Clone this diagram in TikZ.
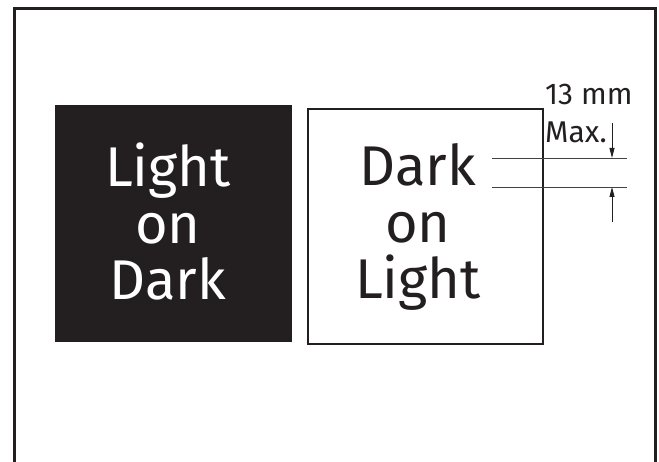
\documentclass[tikz,border=0pt]{standalone}
\usepackage{fontspec}
\setmainfont{Fira Sans}
\usetikzlibrary{arrows.meta}
\definecolor{ink}{HTML}{231F20}
\begin{document}
\begin{tikzpicture}[x=1pt,y=-1pt,
  bigtext/.style={font=\fontsize{56}{56.5}\selectfont,align=center,inner sep=0pt,anchor=base},
  smalltext/.style={font=\fontsize{30}{30}\selectfont,inner sep=0pt,anchor=base west,text=ink},
  guide/.style={line width=0.9pt,draw=ink!85},
  dimarrow/.style={line width=0.9pt,draw=ink,-{Triangle[length=10pt,width=5pt]}}]
\useasboundingbox (0,0) rectangle (659,462);
% outer frame
\draw[line width=3pt,draw=ink] (14.7,480) -- (14.7,8.7) -- (655,8.7) -- (655,480);
% boxes
\node[fill=ink,draw=none,minimum width=237pt,minimum height=237pt,inner sep=0pt,anchor=north west] (dark) at (55,105) {};
\node[draw=ink,line width=2pt,fill=white,minimum width=235pt,minimum height=235pt,inner sep=0pt,anchor=north west] (light) at (307,108) {};
% texts
\node[bigtext,text=white] (lod) at (168,300) {Light\\on\\Dark};
\node[bigtext,text=ink] (dol) at (418,299) {Dark\\on\\Light};
\node[smalltext] (mm) at (545,105) {13 mm};
\node[smalltext] (max) at (545,143) {Max.};
% guide lines
\coordinate (g1a) at (492,158); \coordinate (g1b) at (627,158);
\coordinate (g2a) at (492,187); \coordinate (g2b) at (627,187);
\draw[guide] (g1a) -- (g1b);
\draw[guide] (g2a) -- (g2b);
\coordinate (a1s) at (612,123); \coordinate (a1e) at (612,158);
\coordinate (a2s) at (612,222); \coordinate (a2e) at (612,187);
\draw[dimarrow] (a1s) -- (a1e);
\draw[dimarrow] (a2s) -- (a2e);
\end{tikzpicture}
\end{document}
